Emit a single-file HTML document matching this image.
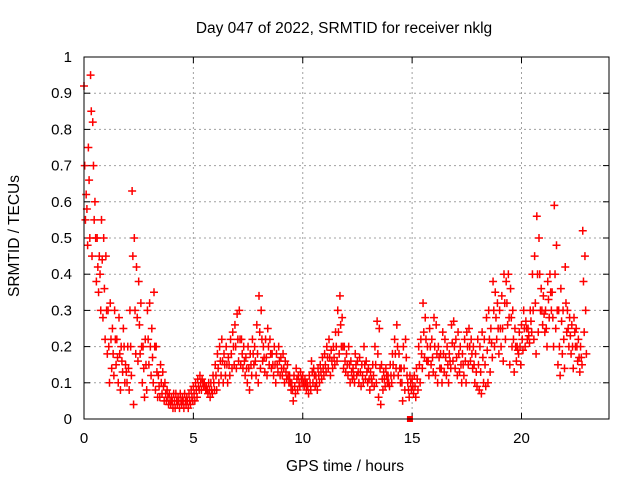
<!DOCTYPE html>
<html><head><meta charset="utf-8"><style>
body{margin:0;background:#fff}
svg{display:block;font-family:"Liberation Sans",sans-serif}
</style></head><body>
<svg id="chart" width="640" height="480" viewBox="0 0 640 480">
<text x="344" y="33" font-size="15.5" text-anchor="middle">Day 047 of 2022, SRMTID for receiver nklg</text>
<text x="345" y="471" font-size="15.5" text-anchor="middle">GPS time / hours</text>
<text transform="translate(19,236) rotate(-90)" font-size="15.5" text-anchor="middle">SRMTID / TECUs</text>
<g id="grid"></g><g id="ticks"></g><g id="pts"></g>
<rect x="84" y="57" width="525" height="362" fill="none" stroke="#000" stroke-width="1"/>
</svg>
<script>
const xTicks=[0,5,10,15,20];
const yTicks=[0,0.1,0.2,0.3,0.4,0.5,0.6,0.7,0.8,0.9,1];
const yTickLabels=["0","0.1","0.2","0.3","0.4","0.5","0.6","0.7","0.8","0.9","1"];
const tStep=0.1;
const hiVals=[0.92,0.62,0.75,0.95,0.82,0.6,0.5,0.45,0.55,0.5,
0.45,0.3,0.32,0.25,0.3,0.22,0.28,0.2,0.25,0.15,
0.2,0.3,0.63,0.5,0.42,0.38,0.32,0.2,0.22,0.3,
0.32,0.25,0.35,0.2,0.12,0.15,0.13,0.1,0.08,0.07,
0.06,0.07,0.07,0.06,0.07,0.06,0.07,0.06,0.07,0.08,
0.09,0.1,0.11,0.12,0.11,0.1,0.09,0.1,0.1,0.12,
0.15,0.18,0.2,0.22,0.18,0.2,0.17,0.22,0.24,0.26,
0.29,0.3,0.22,0.2,0.17,0.2,0.18,0.22,0.2,0.26,
0.34,0.3,0.2,0.22,0.25,0.22,0.18,0.2,0.18,0.2,
0.17,0.18,0.16,0.15,0.12,0.1,0.12,0.14,0.12,0.13,
0.12,0.11,0.1,0.12,0.16,0.14,0.12,0.14,0.15,0.17,
0.18,0.2,0.22,0.19,0.2,0.24,0.3,0.34,0.28,0.2,
0.18,0.2,0.16,0.14,0.18,0.16,0.17,0.15,0.2,0.16,
0.14,0.13,0.15,0.2,0.27,0.25,0.15,0.13,0.14,0.12,
0.15,0.18,0.22,0.26,0.18,0.14,0.2,0.22,0.1,0.12,
0.11,0.12,0.14,0.2,0.22,0.32,0.28,0.2,0.25,0.22,
0.28,0.26,0.2,0.18,0.24,0.22,0.2,0.18,0.26,0.27,
0.22,0.24,0.2,0.18,0.22,0.24,0.25,0.22,0.2,0.18,
0.22,0.2,0.24,0.22,0.28,0.3,0.25,0.38,0.35,0.32,
0.3,0.34,0.4,0.38,0.4,0.36,0.3,0.25,0.2,0.24,
0.26,0.3,0.27,0.25,0.3,0.4,0.45,0.56,0.5,0.36,
0.34,0.3,0.38,0.4,0.35,0.59,0.48,0.3,0.36,0.3,
0.42,0.3,0.28,0.26,0.28,0.25,0.22,0.2,0.52,0.45];
const midVals=[0.7,0.58,0.66,0.85,0.7,0.5,0.42,0.4,0.44,0.36,
0.3,0.2,0.22,0.18,0.22,0.17,0.18,0.16,0.2,0.13,
0.14,0.2,0.45,0.3,0.28,0.26,0.2,0.14,0.15,0.22,
0.2,0.17,0.2,0.13,0.09,0.1,0.09,0.07,0.06,0.05,
0.05,0.05,0.05,0.05,0.05,0.05,0.05,0.05,0.05,0.06,
0.07,0.08,0.09,0.1,0.1,0.09,0.08,0.08,0.08,0.1,
0.12,0.14,0.16,0.16,0.15,0.15,0.15,0.18,0.2,0.2,
0.22,0.22,0.18,0.16,0.14,0.14,0.15,0.18,0.16,0.18,
0.24,0.22,0.17,0.17,0.2,0.18,0.15,0.15,0.15,0.16,
0.14,0.14,0.13,0.12,0.1,0.08,0.09,0.11,0.1,0.11,
0.1,0.1,0.09,0.1,0.13,0.12,0.1,0.12,0.13,0.14,
0.15,0.17,0.17,0.16,0.17,0.2,0.24,0.26,0.2,0.16,
0.15,0.15,0.13,0.12,0.15,0.13,0.13,0.12,0.15,0.13,
0.11,0.11,0.12,0.15,0.18,0.14,0.11,0.11,0.12,0.1,
0.12,0.15,0.18,0.2,0.14,0.1,0.14,0.17,0.08,0.1,
0.09,0.09,0.11,0.15,0.18,0.24,0.22,0.16,0.2,0.17,
0.2,0.18,0.17,0.14,0.18,0.17,0.15,0.16,0.21,0.2,
0.17,0.18,0.15,0.15,0.16,0.2,0.2,0.18,0.15,0.13,
0.15,0.13,0.17,0.15,0.19,0.22,0.21,0.3,0.28,0.25,
0.25,0.25,0.32,0.32,0.28,0.28,0.22,0.2,0.19,0.2,
0.22,0.25,0.25,0.23,0.27,0.3,0.32,0.4,0.4,0.3,
0.29,0.25,0.33,0.35,0.28,0.4,0.3,0.2,0.27,0.22,
0.32,0.25,0.23,0.2,0.24,0.2,0.17,0.17,0.38,0.3];
const loVals=[0.55,0.48,0.5,0.45,0.55,0.38,0.35,0.3,0.28,0.22,
0.18,0.1,0.14,0.12,0.15,0.1,0.08,0.13,0.1,0.1,
0.08,0.12,0.04,0.18,0.16,0.18,0.1,0.06,0.08,0.15,
0.12,0.1,0.08,0.06,0.06,0.07,0.05,0.05,0.04,0.04,
0.03,0.03,0.04,0.03,0.04,0.03,0.04,0.03,0.04,0.05,
0.05,0.06,0.08,0.08,0.09,0.08,0.07,0.06,0.07,0.08,
0.08,0.1,0.12,0.1,0.12,0.1,0.12,0.14,0.15,0.14,
0.16,0.15,0.14,0.12,0.1,0.08,0.12,0.15,0.12,0.1,
0.14,0.16,0.13,0.12,0.15,0.14,0.12,0.1,0.13,0.12,
0.12,0.1,0.11,0.1,0.08,0.05,0.07,0.08,0.09,0.1,
0.09,0.08,0.07,0.08,0.1,0.09,0.08,0.1,0.11,0.12,
0.13,0.14,0.12,0.14,0.15,0.16,0.18,0.2,0.14,0.13,
0.12,0.1,0.11,0.1,0.12,0.1,0.09,0.1,0.11,0.1,
0.08,0.1,0.09,0.1,0.06,0.04,0.08,0.09,0.1,0.09,
0.1,0.12,0.14,0.12,0.1,0.05,0.08,0.12,0.06,0.08,
0.07,0.06,0.08,0.1,0.14,0.17,0.16,0.12,0.15,0.13,
0.12,0.1,0.14,0.1,0.13,0.12,0.1,0.14,0.16,0.14,
0.12,0.13,0.1,0.12,0.1,0.15,0.16,0.14,0.1,0.09,
0.08,0.07,0.1,0.09,0.1,0.13,0.17,0.2,0.22,0.18,
0.2,0.16,0.22,0.26,0.15,0.2,0.13,0.16,0.18,0.15,
0.19,0.2,0.22,0.21,0.24,0.22,0.18,0.24,0.3,0.26,
0.24,0.2,0.28,0.3,0.2,0.25,0.15,0.12,0.18,0.14,
0.24,0.2,0.18,0.14,0.2,0.16,0.13,0.15,0.24,0.18];
const X0=84,X1=609,Y0=419,Y1=57,XMAX=24;
const xs=v=>X0+(X1-X0)*v/XMAX;
const ys=v=>Y0-(Y0-Y1)*v;
const NS="http://www.w3.org/2000/svg";
const grid=document.getElementById('grid'),ticks=document.getElementById('ticks'),pts=document.getElementById('pts');
function mk(tag,at,parent){const e=document.createElementNS(NS,tag);for(const k in at)e.setAttribute(k,at[k]);parent.appendChild(e);return e;}
xTicks.forEach(t=>{const x=xs(t);
 if(t>0){const g=mk('line',{x1:x,x2:x,y1:Y0,y2:Y1,stroke:'#a0a0a0','stroke-dasharray':'2,3'},grid);
 
 }
 mk('line',{x1:x,x2:x,y1:Y0,y2:Y0-6,stroke:'#000'},ticks);
 mk('line',{x1:x,x2:x,y1:Y1,y2:Y1+6,stroke:'#000'},ticks);
 const l=mk('text',{x:x,y:Y0+24,'font-size':15,'text-anchor':'middle'},ticks);l.textContent=t;
 
 
});
yTicks.forEach((t,i)=>{const y=ys(t);
 if(t>0&&t<1){const g=mk('line',{x1:X0,x2:X1,y1:y,y2:y,stroke:'#a0a0a0','stroke-dasharray':'2,3'},grid);
 
 }
 mk('line',{x1:X0,x2:X0+6,y1:y,y2:y,stroke:'#000'},ticks);
 mk('line',{x1:X1,x2:X1-6,y1:y,y2:y,stroke:'#000'},ticks);
 const l=mk('text',{x:X0-12,y:y+5,'font-size':15,'text-anchor':'end'},ticks);l.textContent=yTickLabels[i];
 
 
});
function plus(t,v){const x=xs(t),y=ys(v);
 const p=mk('path',{d:`M${x-4} ${y}h8M${x} ${y-4}v8`,stroke:'#f00','stroke-width':1.5,fill:'none'},pts);
 
 }
hiVals.forEach((v,i)=>plus(i*tStep,v));
midVals.forEach((v,i)=>plus(i*tStep+tStep*0.33,v));
loVals.forEach((v,i)=>plus(i*tStep+tStep*0.66,v));
const sq=mk('rect',{x:xs(14.9)-3,y:Y0-3,width:6,height:6,fill:'#f00'},pts);


</script>
</body></html>
